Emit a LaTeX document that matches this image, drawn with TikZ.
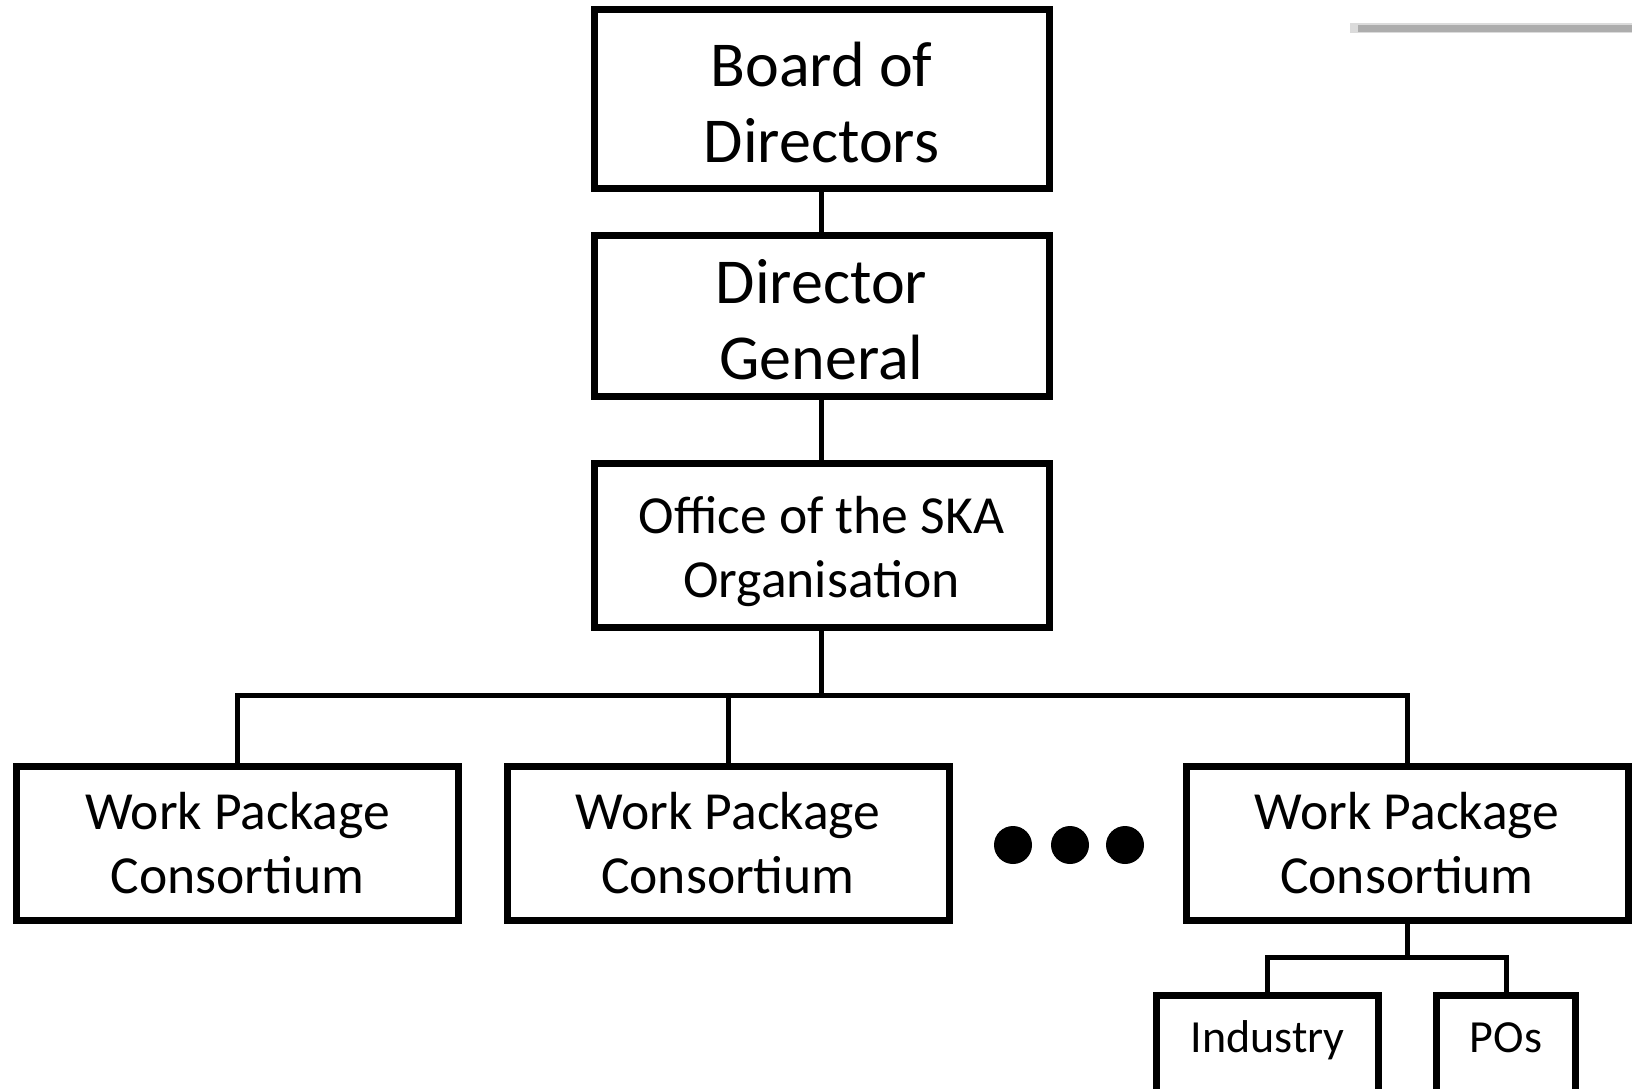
\documentclass[tikz,border=0pt]{standalone}
\usepackage{fontspec}
\setmainfont{Carlito}

\begin{document}
\begin{tikzpicture}[
    x=0.5pt, y=-0.5pt,
    orgbox/.style={
        rectangle, draw=black, line width=3.5pt, inner sep=0pt,
        minimum width=227.5pt, align=center,
        font=\fontsize{32}{38}\selectfont
    },
    wpbox/.style={
        rectangle, draw=black, line width=3.5pt, inner sep=0pt,
        minimum width=221pt, minimum height=77pt, align=center,
        font=\fontsize{26.8}{31.75}\selectfont
    },
    subbox/.style={
        rectangle, draw=black, line width=3.5pt, anchor=north,
        inner xsep=0pt, inner ysep=12.25pt, text height=16pt, text depth=40pt,
        font=\fontsize{23}{28}\selectfont
    },
    link/.style={line width=2.5pt, draw=black},
    dot/.style={circle, fill=black, minimum size=19pt, inner sep=0pt}
]

\clip (0,0) rectangle (1632,1088);

% Faint rule in the top right corner
\draw[line width=5pt, black!14] (1350,28) -- (1640,28);
\draw[line width=3.5pt, black!32] (1358,28) -- (1640,28);

% Central chain of command
\node[orgbox, minimum height=89.5pt] (board)  at (821.5,98.5)
    {\rule{0pt}{0.82em}Board of\\Directors};
\node[orgbox, minimum height=80.5pt] (dg)     at (821.5,315.5)
    {\rule{0pt}{0.82em}Director\\General};
\node[orgbox, minimum height=82pt, font=\fontsize{26.8}{32}\selectfont]
    (office) at (821.5,545) {\rule{0pt}{0.95em}Office of the SKA\\Organisation};

% Work package consortia
\node[wpbox] (wpa) at (237.5,843) {Work Package\\Consortium};
\node[wpbox] (wpb) at (728,843)   {Work Package\\Consortium};
\node[wpbox] (wpc) at (1407,843)  {Work Package\\Consortium};

% Ellipsis between the second and last consortium
\node[dot] (dota) at (1013,845) {};
\node[dot] (dotb) at (1070,845) {};
\node[dot] (dotc) at (1125,845) {};

% Members of the last consortium
\node[subbox, minimum width=111pt]  (industry) at (1267.5,992) {Industry};
\node[subbox, minimum width=69.5pt] (pos)      at (1506,992)   {POs};

% Connectors
\coordinate (bus)    at (821.5,695);
\coordinate (subbus) at (1407,957);

\draw[link] (board.south) -- (dg.north);
\draw[link] (dg.south) -- (office.north);
\draw[link] (office.south) -- (bus);
\draw[link] (wpa.north) |- (bus) -| (wpc.north);
\draw[link] (wpb.north) -- (wpb.north |- bus);
\draw[link] (wpc.south) -- (subbus);
\draw[link] (industry.north) |- (subbus) -| (pos.north);

\end{tikzpicture}
\end{document}
